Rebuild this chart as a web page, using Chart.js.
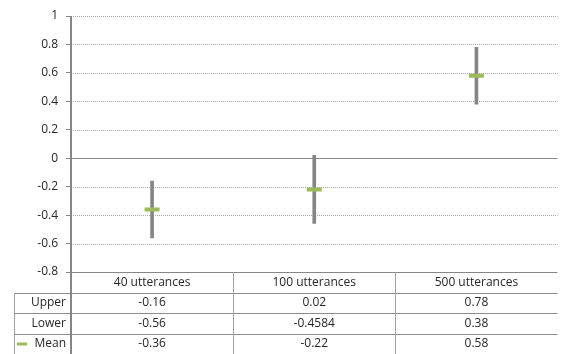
<!DOCTYPE html>
<html>
<head>
<meta charset="utf-8">
<script src="https://cdn.jsdelivr.net/npm/chart.js@4"></script>
<style>
html,body{margin:0;padding:0;background:#fff;}
#wrap{width:569px;height:354px;}
</style>
</head>
<body>
<div id="wrap"><canvas id="c" width="569" height="354"></canvas></div>
<script>
const categories = ['40 utterances', '100 utterances', '500 utterances'];
const upperValues = [-0.16, 0.02, 0.78];
const lowerValues = [-0.56, -0.4584, 0.38];
const meanValues = [-0.36, -0.22, 0.58];
const upperLabels = ['-0.16', '0.02', '0.78'];
const lowerLabels = ['-0.56', '-0.4584', '0.38'];
const meanLabels = ['-0.36', '-0.22', '0.58'];
const rowNames = ['Upper', 'Lower', 'Mean'];

const FONT = '12px "Open Sans"';
const TEXT = '#262626';
const AXIS = '#868686';
const GREEN = '#9BBB59';

Chart.defaults.font.family = '"Open Sans"';
Chart.defaults.font.size = 12;
Chart.defaults.color = TEXT;

const gridPlugin = {
  id: 'gridPlugin',
  beforeDatasetsDraw(chart) {
    const ctx = chart.ctx, ca = chart.chartArea, ys = chart.scales.y;
    ctx.save();
    ys.ticks.forEach(t => {
      const y = Math.round(ys.getPixelForValue(t.value)) + 0.5;
      ctx.beginPath();
      if (Math.abs(t.value) < 1e-9 || Math.abs(t.value - ys.min) < 1e-9) {
        ctx.setLineDash([]);
        ctx.strokeStyle = AXIS;
      } else {
        ctx.setLineDash([1, 1]);
        ctx.strokeStyle = '#a6a6a6';
      }
      ctx.lineWidth = 1;
      ctx.moveTo(ca.left, y);
      ctx.lineTo(ca.right, y);
      ctx.stroke();
    });
    ctx.restore();
  },
  afterDraw(chart) {
    const ctx = chart.ctx, ca = chart.chartArea, xs = chart.scales.x;
    const H = chart.height;
    const n = categories.length;
    const colW = (ca.right - ca.left) / n;
    const rowH = (H - ca.bottom) / 4;
    const tableLeft = 14;
    ctx.save();
    ctx.setLineDash([]);
    ctx.strokeStyle = '#8c8c8c';
    ctx.lineWidth = 1;
    for (let r = 1; r < 4; r++) {
      const y = Math.round(ca.bottom + r * rowH) + 0.5;
      ctx.beginPath();
      ctx.moveTo(tableLeft, y);
      ctx.lineTo(ca.right, y);
      ctx.stroke();
    }
    ctx.strokeStyle = '#a0a0a0';
    ctx.beginPath();
    ctx.moveTo(tableLeft + 0.5, Math.round(ca.bottom + rowH));
    ctx.lineTo(tableLeft + 0.5, H);
    ctx.stroke();
    for (let i = 1; i < n; i++) {
      const x = Math.round(ca.left + i * colW) + 0.5;
      ctx.beginPath();
      ctx.moveTo(x, ca.bottom);
      ctx.lineTo(x, H);
      ctx.stroke();
    }
    ctx.strokeStyle = AXIS;
    ctx.lineWidth = 2;
    ctx.beginPath();
    ctx.moveTo(ca.left, ca.top);
    ctx.lineTo(ca.left, H);
    ctx.stroke();
    ctx.font = FONT;
    ctx.fillStyle = TEXT;
    ctx.textBaseline = 'middle';
    ctx.textAlign = 'center';
    const rows = [upperLabels, lowerLabels, meanLabels];
    for (let i = 0; i < n; i++) {
      const x = xs.getPixelForValue(i);
      ctx.fillText(categories[i], x, ca.bottom + rowH / 2);
      rows.forEach((vals, r) => {
        ctx.fillText(vals[i], x, ca.bottom + (r + 1.5) * rowH);
      });
    }
    ctx.textAlign = 'right';
    rowNames.forEach((name, r) => {
      ctx.fillText(name, ca.left - 5, ca.bottom + (r + 1.5) * rowH);
    });
    const ly = Math.round(ca.bottom + 3.5 * rowH);
    ctx.fillStyle = GREEN;
    ctx.fillRect(17, ly - 1.5, 10, 3);
    ctx.restore();
  }
};

new Chart(document.getElementById('c'), {
  type: 'bar',
  data: {
    labels: categories,
    datasets: [
      {
        label: 'Range',
        data: lowerValues.map((l, i) => [l, upperValues[i]]),
        backgroundColor: '#858585',
        borderWidth: 0,
        barThickness: 3,
        order: 2
      },
      {
        type: 'line',
        label: 'Mean',
        data: meanValues,
        showLine: false,
        pointStyle: 'line',
        pointRadius: 7.5,
        pointHoverRadius: 7.5,
        pointBorderWidth: 4,
        borderColor: GREEN,
        backgroundColor: GREEN,
        order: 1
      }
    ]
  },
  options: {
    responsive: false,
    animation: false,
    events: [],
    layout: { padding: { top: 16, right: 0, bottom: 82, left: 0 } },
    plugins: { legend: { display: false }, tooltip: { enabled: false } },
    scales: {
      x: { display: false, offset: true },
      y: {
        min: -0.8, max: 1,
        afterFit(scale) { scale.width = 71; },
        ticks: {
          stepSize: 0.2,
          padding: 8,
          color: TEXT,
          font: { size: 12 },
          callback: v => String(Math.round(v * 10) / 10)
        },
        border: { display: false },
        grid: { drawOnChartArea: false, drawTicks: true, tickLength: 5, tickColor: AXIS, tickWidth: 1 }
      }
    }
  },
  plugins: [gridPlugin]
});
</script>
</body>
</html>
